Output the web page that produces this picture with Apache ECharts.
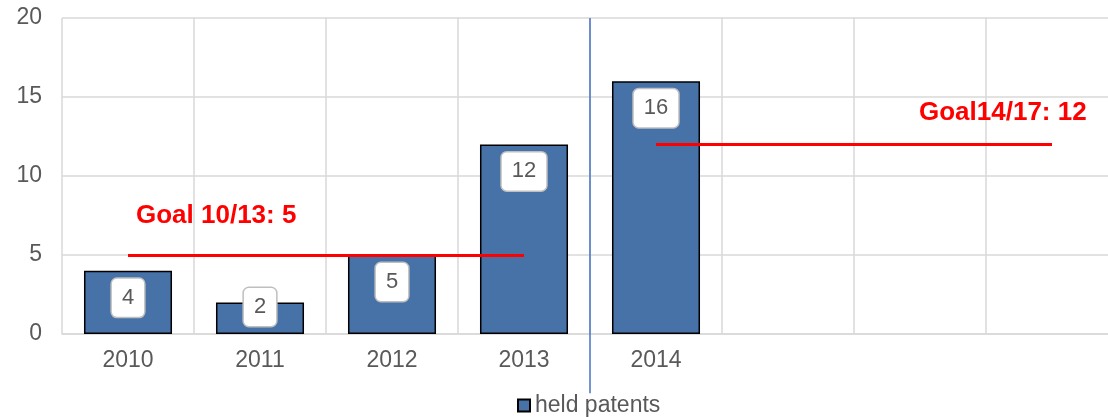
<!DOCTYPE html>
<html>
<head>
<meta charset="utf-8">
<script src="https://cdn.jsdelivr.net/npm/echarts@6/dist/echarts.min.js"></script>
<style>
  html, body { margin: 0; padding: 0; background: #fff; }
  #main { width: 1108px; height: 417px; }
</style>
</head>
<body>
<div id="main"></div>
<script>
// categories (last three columns are empty in the source chart)
var categories = ['2010', '2011', '2012', '2013', '2014', '', '', ''];
var heldPatents = [4, 2, 5, 12, 16];
var yTicks = [0, 5, 10, 15, 20];
// goals: [startIndex, endIndex, value, label]
var goal1 = [0, 3, 5, 'Goal 10/13: 5'];
var goal2 = [4, 7, 12, 'Goal14/17: 12'];
// divider between 2013 and 2014, from top of chart down to legend
var divider = [[4, 20], [4, -3.75]];

var font = "'Liberation Sans', Arial, sans-serif";
var myChart = echarts.init(document.getElementById('main'));

var barData = heldPatents.map(function (v, i) {
  // the small bar keeps its label resting near the base
  if (v < 3) {
    return { value: v, label: { position: 'insideBottom', distance: 8 } };
  }
  return v;
});

function goalLine(g, labelPos, dist) {
  return [
    { coord: [g[0], g[2]], name: g[3],
      label: { position: labelPos, distance: dist } },
    { coord: [g[1], g[2]] }
  ];
}

var option = {
  animation: false,
  backgroundColor: '#fff',
  textStyle: { fontFamily: font },
  // plot runs past the right edge of the picture, as in the source
  grid: { left: 62, width: 1056, top: 18, bottom: 83, outerBoundsMode: 'none', containLabel: false },
  legend: {
    data: ['held patents'],
    bottom: -5,
    left: 512,
    icon: 'rect',
    itemWidth: 12,
    itemHeight: 12,
    textStyle: { fontSize: 23, color: '#595959', fontFamily: font }
  },
  xAxis: [{
    type: 'category',
    data: categories,
    axisTick: { show: false },
    axisLine: { lineStyle: { color: '#d9d9d9', width: 1.5 } },
    axisLabel: { fontSize: 23, color: '#595959', margin: 15, fontFamily: font },
    splitLine: { show: true, lineStyle: { color: '#d9d9d9', width: 1.5 } }
  }, {
    type: 'value',
    min: 0,
    max: categories.length,
    show: false
  }],
  yAxis: {
    type: 'value',
    min: yTicks[0],
    max: yTicks[yTicks.length - 1],
    interval: 5,
    axisLine: { show: false },
    axisTick: { show: false },
    axisLabel: { fontSize: 23, color: '#595959', margin: 20, fontFamily: font },
    splitLine: { lineStyle: { color: '#d9d9d9', width: 1.5 } }
  },
  series: [{
    name: 'held patents',
    type: 'bar',
    data: barData,
    barWidth: '66.7%',
    itemStyle: { color: '#4672a8', borderColor: '#000', borderWidth: 1.5 },
    label: {
      show: true,
      position: 'insideTop',
      distance: 8,
      fontSize: 22,
      color: '#595959',
      fontFamily: font,
      backgroundColor: '#fff',
      borderColor: '#bfbfbf',
      borderWidth: 1.5,
      borderRadius: 5,
      padding: [8, 10]
    },
    markLine: {
      silent: true,
      symbol: 'none',
      lineStyle: { color: '#ff0000', width: 3, type: 'solid' },
      label: {
        show: true,
        formatter: '{b}',
        color: '#ff0000',
        fontSize: 26,
        fontWeight: 'bold',
        fontFamily: font
      },
      emphasis: { disabled: true },
      data: [
        goalLine(goal1, 'insideStartTop', [8, 26]),
        goalLine(goal2, 'insideStartTop', [263, 19])
      ]
    }
  }, {
    name: 'divider',
    type: 'line',
    xAxisIndex: 1,
    clip: false,
    symbol: 'none',
    silent: true,
    lineStyle: { color: '#4472c4', width: 1.5 },
    data: divider
  }]
};
myChart.setOption(option);
</script>
</body>
</html>
